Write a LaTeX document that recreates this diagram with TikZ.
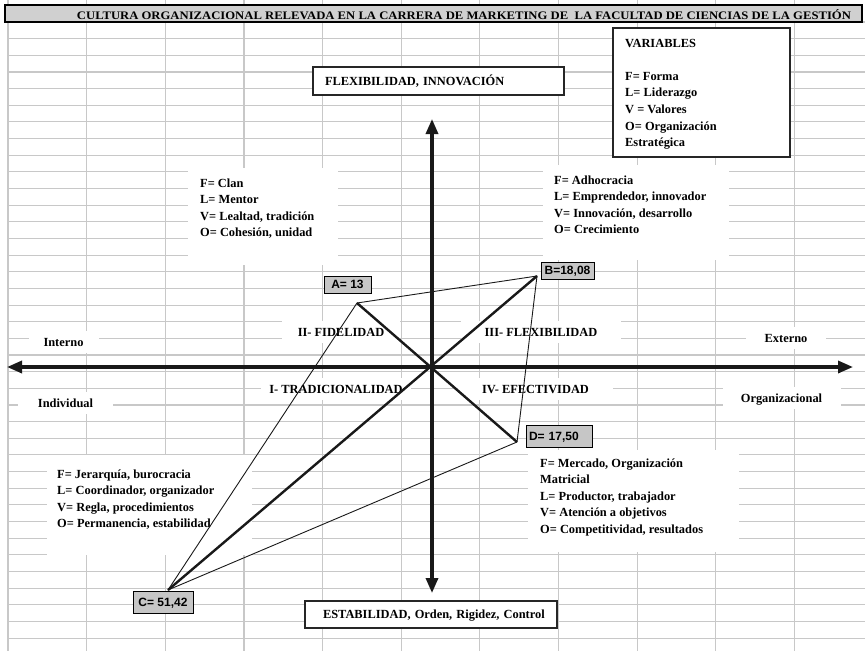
\documentclass[tikz,border=0pt]{standalone}
\usepackage{fontspec}
\setmainfont{Liberation Serif}
\setsansfont{Liberation Sans}
\usepackage{graphicx}
\usetikzlibrary{arrows.meta}
\definecolor{gridc}{RGB}{200,200,200}
\definecolor{titleg}{RGB}{208,208,208}
\definecolor{ptg}{RGB}{198,198,198}
\newcommand{\txtfont}{\fontsize{12.4}{16.65}\selectfont\bfseries}
\begin{document}
\begin{tikzpicture}[x=1pt,y=-1pt,
  gridline/.style={draw=gridc, line width=1.1pt},
  blk/.style={anchor=base west, inner sep=0pt, font=\txtfont},
  lbl/.style={fill=white, inner sep=0pt, minimum height=22pt, text height=8.5pt, text depth=0pt, font=\txtfont},
  framebox/.style={draw=black!85, line width=1.2pt, fill=white, inner sep=0pt, font=\txtfont},
  ptlabel/.style={draw=black, line width=0.9pt, fill=ptg, inner sep=0pt, text height=8.8pt, text depth=0pt, font=\sffamily\bfseries\fontsize{12}{14}\selectfont},
  axis/.style={line width=3.3pt, draw=black!90, arrows={Triangle[length=15pt,width=12pt]-Triangle[length=15pt,width=12pt]}},
  thickln/.style={line width=2.4pt, draw=black!90},
  thinln/.style={line width=0.9pt, draw=black!90, line join=round}]
\useasboundingbox (0,0) rectangle (865,651);
\fill[white] (0,0) rectangle (865,651);
% grid
\foreach \k in {0,...,10} { \draw[gridline] ({8+78.65*\k},0) -- ({8+78.65*\k},651); }
\foreach \k in {0,...,37} { \draw[gridline] (8,{22+16.65*\k}) -- (865,{22+16.65*\k}); }
% title bar
\draw[fill=titleg, draw=black, line width=1.3pt] (5,5) rectangle (862,22);
\node[anchor=base, inner sep=0pt] (title) at (464,19.3) {\resizebox{774pt}{\height}{\fontsize{11.5}{13}\selectfont\bfseries CULTURA ORGANIZACIONAL RELEVADA EN LA CARRERA DE MARKETING DE\ \ LA FACULTAD DE CIENCIAS DE LA GESTIÓN}};
% quadrant text blocks
\fill[white] (188,168) rectangle (338,265);
\node[blk] (tl) at (200,187) {\begin{tabular}[t]{@{}l@{}}F= Clan\\L= Mentor\\V= Lealtad, tradición\\O= Cohesión, unidad\end{tabular}};
\fill[white] (543,165) rectangle (729,260);
\node[blk] (tr) at (554,184) {\begin{tabular}[t]{@{}l@{}}F= Adhocracia\\L= Emprendedor, innovador\\V= Innovación, desarrollo\\O= Crecimiento\end{tabular}};
\fill[white] (47,455) rectangle (252,555);
\node[blk] (bl) at (57,478) {\begin{tabular}[t]{@{}l@{}}F= Jerarquía, burocracia\\L= Coordinador, organizador\\V= Regla, procedimientos\\O= Permanencia, estabilidad\end{tabular}};
\fill[white] (528,450) rectangle (739,552);
\node[blk] (br) at (540,467) {\begin{tabular}[t]{@{}l@{}}F= Mercado, Organización\\Matricial\\L= Productor, trabajador\\V= Atención a objetivos\\O= Competitividad, resultados\end{tabular}};
% side and quadrant labels
\node[lbl, minimum width=70pt] (interno) at (63.5,342) {Interno};
\node[lbl, minimum width=95pt] (individual) at (65.5,403) {Individual};
\node[lbl, minimum width=118pt] (q2) at (341,332) {II- FIDELIDAD};
\node[lbl, minimum width=150pt] (q1) at (336,389) {I- TRADICIONALIDAD};
\node[lbl, minimum width=160pt] (q3) at (541,332) {III- FLEXIBILIDAD};
\node[lbl, minimum width=155pt] (q4) at (535.5,389) {IV- EFECTIVIDAD};
\node[lbl, minimum width=80pt] (externo) at (786,338) {Externo};
\node[lbl, minimum width=118pt] (organiz) at (781.5,398) {Organizacional};
% framed boxes
\node[framebox, minimum width=177pt, minimum height=129pt] (varbox) at (701.5,92.5) {};
\node[blk] (vartext) at (625,47) {\begin{tabular}[t]{@{}l@{}}VARIABLES\\ \\F= Forma\\L= Liderazgo\\V = Valores\\O= Organización\\Estratégica\end{tabular}};
\node[framebox, minimum height=28pt, text width=251pt, align=left, text height=8.5pt, text depth=0pt] (flex) at (438.5,81) {\hspace*{12pt}FLEXIBILIDAD, INNOVACIÓN};
\node[framebox, minimum height=27pt, text width=252pt, align=left, text height=8.5pt, text depth=0pt] (estab) at (431,614.5) {\hspace*{18pt}ESTABILIDAD, Orden, Rigidez, Control};
% axes
\coordinate (O) at (432,367);
\coordinate (xl) at (7,367);
\coordinate (xr) at (853,367);
\coordinate (yt) at (432,119);
\coordinate (yb) at (432,593);
\draw[axis] (xl) -- (xr);
\draw[axis] (yt) -- (yb);
% quadrilateral
\coordinate (A) at (357,303);
\coordinate (B) at (537,276);
\coordinate (D) at (517,442);
\coordinate (C) at (168,590);
\draw[thickln] (A) -- (D);
\draw[thickln] (B) -- (C);
\draw[thinln] (A) -- (B) -- (D) -- (C) -- cycle;
% point labels
\node[ptlabel, minimum width=47pt, minimum height=17pt] (al) at (347.5,284.5) {A= 13};
\node[ptlabel, minimum width=53pt, minimum height=17pt] (bl2) at (567.5,270.5) {B=18,08};
\node[ptlabel, minimum height=22pt, text width=60pt, align=left, inner xsep=3pt] (dl) at (559,436) {D= 17,50};
\node[ptlabel, minimum width=60pt, minimum height=22pt] (cl) at (163,602) {C= 51,42};
\end{tikzpicture}
\end{document}
